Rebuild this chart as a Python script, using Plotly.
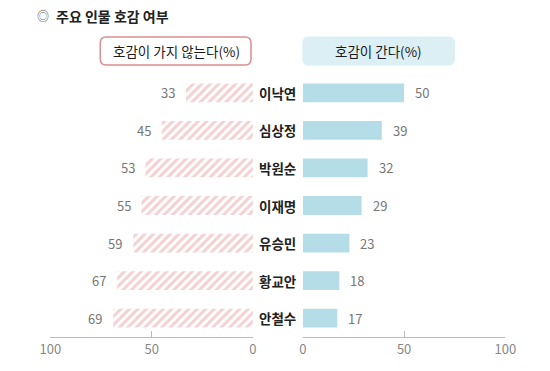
import plotly.graph_objects as go

names = ["이낙연", "심상정", "박원순", "이재명", "유승민", "황교안", "안철수"]
dislike = [33, 45, 53, 55, 59, 67, 69]
like = [50, 39, 32, 29, 23, 18, 17]
ticks = [0, 50, 100]

W, H = 550, 371
def px(x): return x / W
def py(y): return 1 - y / H

FONT = "Noto Sans CJK KR"
fig = go.Figure()

fig.add_trace(go.Bar(
    y=names, x=dislike, orientation="h", xaxis="x", yaxis="y",
    width=0.5,
    marker=dict(color="white", line=dict(width=0),
                pattern=dict(shape="/", fgcolor="#E8A2A5", bgcolor="white",
                             size=6, solidity=0.5)),
    hoverinfo="skip", showlegend=False))
fig.add_trace(go.Bar(
    y=names, x=like, orientation="h", xaxis="x2", yaxis="y",
    width=0.5, marker=dict(color="#B5DDE8", line=dict(width=0)),
    hoverinfo="skip", showlegend=False))

ann = []
for n, d, l in zip(names, dislike, like):
    ann.append(dict(x=d, y=n, xref="x", yref="y", text=str(d), showarrow=False,
                    xanchor="right", xshift=-9, font=dict(size=13, color="#777777", family=FONT)))
    ann.append(dict(x=l, y=n, xref="x2", yref="y", text=str(l), showarrow=False,
                    xanchor="left", xshift=9, font=dict(size=13, color="#777777", family=FONT)))
    ann.append(dict(x=px(278), y=n, xref="paper", yref="y", text="<b>%s</b>" % n,
                    showarrow=False, xanchor="center",
                    font=dict(size=13.5, color="#222222", family=FONT)))

ann.append(dict(x=px(25), y=py(15.5), xref="paper", yref="paper", text="◎",
                showarrow=False, xanchor="left", yanchor="middle",
                font=dict(size=12, color="#555555", family=FONT)))
ann.append(dict(x=px(45), y=py(15.5), xref="paper", yref="paper", text="<b>주요 인물 호감 여부</b>",
                showarrow=False, xanchor="left", yanchor="middle",
                font=dict(size=14, color="#222222", family=FONT)))
ann.append(dict(x=px(172), y=py(51), xref="paper", yref="paper", text="호감이 가지 않는다(%)",
                showarrow=False, xanchor="center", yanchor="middle",
                font=dict(size=13.5, color="#1a1a1a", family=FONT)))
ann.append(dict(x=px(383), y=py(51), xref="paper", yref="paper", text="호감이 간다(%)",
                showarrow=False, xanchor="center", yanchor="middle",
                font=dict(size=13.5, color="#1a1a1a", family=FONT)))

def rrect(x0, y0, x1, y1, r):
    X0, X1 = px(x0), px(x1)
    Y0, Y1 = py(y0), py(y1)
    rx, ry = r / W, r / H
    return (f"M {X0+rx},{Y0} L {X1-rx},{Y0} Q {X1},{Y0} {X1},{Y0-ry} "
            f"L {X1},{Y1+ry} Q {X1},{Y1} {X1-rx},{Y1} L {X0+rx},{Y1} "
            f"Q {X0},{Y1} {X0},{Y1+ry} L {X0},{Y0-ry} Q {X0},{Y0} {X0+rx},{Y0} Z")

shapes = [
    dict(type="path", xref="paper", yref="paper", path=rrect(93, 37, 250, 65, 6),
         line=dict(color="#D98E93", width=1.5), fillcolor="white", layer="below"),
    dict(type="path", xref="paper", yref="paper", path=rrect(304, 37, 462, 65, 6),
         line=dict(color="#DCEFF5", width=1), fillcolor="#DCEFF5", layer="below"),
]

axis_common = dict(showgrid=False, zeroline=False, showline=True, linecolor="#BBBBBB",
                   linewidth=1.2, ticks="inside", ticklen=6, tickcolor="#BBBBBB",
                   tickwidth=1.2, tickvals=ticks,
                   tickfont=dict(size=13, color="#888888", family=FONT),
                   anchor="y", fixedrange=True)

fig.update_layout(
    width=W, height=H, margin=dict(l=0, r=0, t=0, b=0),
    paper_bgcolor="white", plot_bgcolor="white",
    barmode="overlay",
    xaxis=dict(domain=[px(41), px(252)], range=[100, 0], **axis_common),
    xaxis2=dict(domain=[px(304), px(515)], range=[0, 100], **axis_common),
    yaxis=dict(domain=[py(337), py(74)], visible=False, categoryorder="array",
               categoryarray=names[::-1], range=[-0.5, 6.5], fixedrange=True),
    annotations=ann, shapes=shapes,
    font=dict(family=FONT),
)

fig.write_html("out.html", config={"displayModeBar": False},
               post_script="document.body.style.margin='0';")
